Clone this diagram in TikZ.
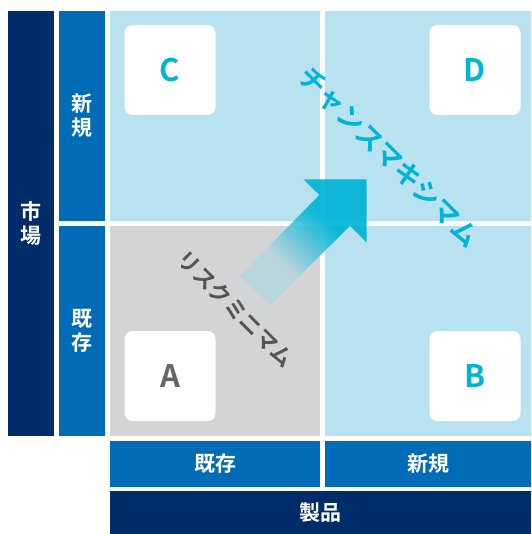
\documentclass[tikz,border=0pt]{standalone}
\usepackage{fontspec}
\newfontfamily\jpb{Noto Sans CJK JP Bold}
\usetikzlibrary{calc}
\definecolor{navy}{HTML}{002D69}
\definecolor{midblue}{HTML}{006BB6}
\definecolor{lightq}{HTML}{B9E2F0}
\definecolor{grayq}{HTML}{D3D4D6}
\definecolor{cyanc}{HTML}{00B4D7}
\definecolor{graytxt}{HTML}{555555}
\definecolor{lettergray}{HTML}{666666}
\definecolor{tailc}{HTML}{B6D6DD}
\pgfdeclarehorizontalshading{arrowshade}{100bp}{color(0bp)=(tailc); color(38bp)=(tailc); color(62bp)=(cyanc); color(100bp)=(cyanc)}
\tikzset{
  vlabel/.style={text=white, font=\jpb\fontsize{21}{24}\selectfont, align=center, inner sep=0pt},
  hlabel/.style={text=white, font=\jpb\fontsize{21}{24}\selectfont, inner sep=0pt},
  letterbox/.style={fill=white, draw=none, rounded corners=8pt, minimum width=91pt, minimum height=90pt, inner sep=0pt, font=\jpb\fontsize{31}{31}\selectfont},
  diagtext/.style={font=\jpb\fontsize{#1}{#1}\selectfont, inner sep=0pt, rotate=-45},
}
\begin{document}
\begin{tikzpicture}[x=1pt,y=-1pt]
\useasboundingbox (0,0) rectangle (531,534);
% left bars
\fill[navy] (8,11) rectangle (54,436);
\fill[midblue] (59,11) rectangle (105,220.7);
\fill[midblue] (59,226) rectangle (105,436);
% quadrants
\fill[lightq] (110,11) rectangle (320,220.7);
\fill[lightq] (325,11) rectangle (531,220.7);
\fill[grayq] (110,226) rectangle (320,436);
\fill[lightq] (325,226) rectangle (531,436);
% bottom bars
\fill[midblue] (110,441) rectangle (320,487);
\fill[midblue] (325,441) rectangle (531,487);
\fill[navy] (110,491) rectangle (531,534);
% labels
\node[vlabel] (market) at (31,223.5) {市\\場};
\node[vlabel] (newm) at (82,116) {新\\規};
\node[vlabel] (exm) at (82,331) {既\\存};
\node[hlabel] (exp) at (215,464) {既存};
\node[hlabel] (newp) at (428,464) {新規};
\node[hlabel] (prod) at (320,513) {製品};
% letter boxes
\node[letterbox, text=cyanc] (C) at (170,70) {C};
\node[letterbox, text=cyanc] (D) at (475,70) {D};
\node[letterbox, text=lettergray] (A) at (170,376) {A};
\node[letterbox, text=cyanc] (B) at (475,376) {B};
% arrow
\coordinate (t1) at (240,275.7);
\coordinate (t2) at (270,305);
\coordinate (n1) at (319.3,195);
\coordinate (n2) at (350,226);
\coordinate (b1) at (303.3,179.3);
\coordinate (b2) at (366.7,242.7);
\coordinate (tip) at (366.7,179.3);
\shade[shading=arrowshade, shading angle=45, opacity=0.92] (t1) -- (n1) -- (b1) -- (tip) -- (b2) -- (n2) -- (t2) -- cycle;
% diagonal texts
\node[diagtext=22, text=graytxt] (risk) at (236,309) {リスクミニマム};
\node[diagtext=27, text=cyanc] (chance) at (389,157) {チャンスマキシマム};
\end{tikzpicture}
\end{document}
